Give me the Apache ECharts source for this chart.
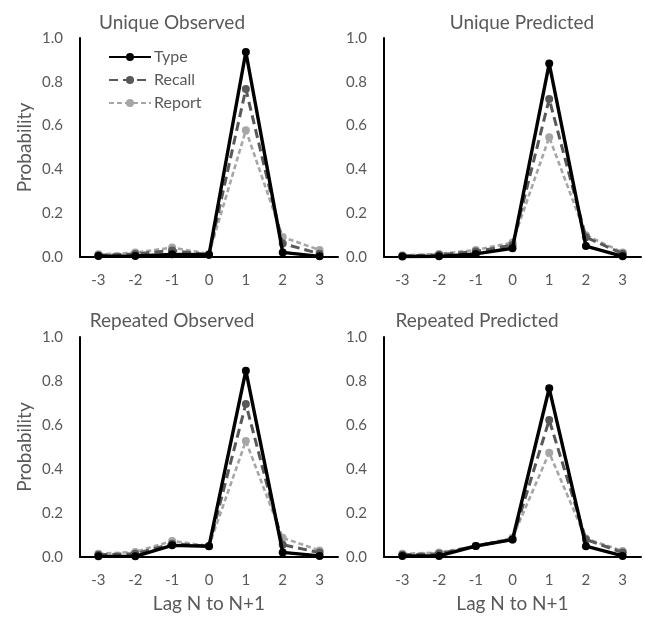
<!DOCTYPE html>
<html><head><meta charset="utf-8">
<script src="https://cdn.jsdelivr.net/npm/echarts@6/dist/echarts.min.js"></script>
<style>html,body{margin:0;padding:0;background:#fff}#c{width:645px;height:619px}</style>
</head><body><div id="c"></div>
<script>
const categories = ['-3','-2','-1','0','1','2','3'];
const panelTitles = ['Unique Observed','Unique Predicted','Repeated Observed','Repeated Predicted'];
const seriesNames = ['Type','Recall','Report'];

const uniqueObservedType   = [0.004, 0.005, 0.012, 0.010, 0.936, 0.021, 0.003];
const uniqueObservedRecall = [0.008, 0.014, 0.030, 0.010, 0.767, 0.062, 0.015];
const uniqueObservedReport = [0.012, 0.020, 0.043, 0.014, 0.579, 0.091, 0.032];

const uniquePredictedType   = [0.002, 0.003, 0.014, 0.040, 0.883, 0.050, 0.003];
const uniquePredictedRecall = [0.005, 0.010, 0.025, 0.055, 0.721, 0.090, 0.015];
const uniquePredictedReport = [0.008, 0.014, 0.032, 0.066, 0.547, 0.099, 0.021];

const repeatedObservedType   = [0.003, 0.003, 0.053, 0.049, 0.847, 0.021, 0.005];
const repeatedObservedRecall = [0.010, 0.015, 0.060, 0.050, 0.696, 0.056, 0.020];
const repeatedObservedReport = [0.015, 0.023, 0.073, 0.050, 0.527, 0.087, 0.030];

const repeatedPredictedType   = [0.005, 0.005, 0.050, 0.079, 0.767, 0.049, 0.005];
const repeatedPredictedRecall = [0.010, 0.015, 0.050, 0.080, 0.623, 0.080, 0.020];
const repeatedPredictedReport = [0.015, 0.020, 0.050, 0.087, 0.474, 0.084, 0.027];

const yTicks = [0, 0.2, 0.4, 0.6, 0.8, 1.0];

const panels = [
  [uniqueObservedType, uniqueObservedRecall, uniqueObservedReport],
  [uniquePredictedType, uniquePredictedRecall, uniquePredictedReport],
  [repeatedObservedType, repeatedObservedRecall, repeatedObservedReport],
  [repeatedPredictedType, repeatedPredictedRecall, repeatedPredictedReport]
];

const FONT = 'Lato';
const TXT = '#595959';
const grids = [
  {left: 80, top: 38, width: 258, height: 219},
  {left: 384, top: 38, width: 257, height: 219},
  {left: 80, top: 337, width: 258, height: 220},
  {left: 384, top: 337, width: 257, height: 220}
];
const titlePos = [[167, 8], [517, 8], [167, 306], [472, 306]];

const styles = [
  {color: '#000000', width: 3.4, type: 'solid', sym: 8},
  {color: '#595959', width: 3, type: [9, 5], sym: 8},
  {color: '#a6a6a6', width: 2.6, type: [5, 3], sym: 8}
];

const xAxes = grids.map((g, i) => ({
  type: 'category', gridIndex: i, data: categories, boundaryGap: true,
  axisLine: {lineStyle: {color: '#000', width: 2}},
  axisTick: {show: false},
  axisLabel: {color: TXT, fontSize: 15, fontFamily: FONT, margin: 16},
  name: i >= 2 ? 'Lag N to N+1' : '', nameLocation: 'middle', nameGap: 37,
  nameTextStyle: {color: TXT, fontSize: 19, fontFamily: FONT}
}));
const yAxes = grids.map((g, i) => ({
  type: 'value', gridIndex: i, min: 0, max: 1, interval: 0.2,
  axisLine: {show: true, lineStyle: {color: '#000', width: 2}},
  axisTick: {show: false},
  splitLine: {show: false},
  axisLabel: {color: TXT, fontSize: 15, fontFamily: FONT, margin: 17,
    formatter: v => yTicks.includes(Math.round(v * 10) / 10) ? v.toFixed(1) : ''},
  name: (i % 2 === 0) ? 'Probability' : '', nameLocation: 'middle', nameGap: 46,
  nameTextStyle: {color: TXT, fontSize: 19, fontFamily: FONT}
}));

const series = [];
panels.forEach((p, pi) => {
  p.forEach((vals, si) => {
    const s = styles[si];
    series.push({
      name: seriesNames[si], type: 'line', xAxisIndex: pi, yAxisIndex: pi,
      data: vals, symbol: 'circle', symbolSize: s.sym,
      itemStyle: {color: s.color},
      lineStyle: {color: s.color, width: s.width, type: s.type},
      z: 10 - si, animation: false
    });
  });
});

const chart = echarts.init(document.getElementById('c'));
chart.setOption({
  animation: false,
  title: panelTitles.map((t, i) => ({
    text: t, left: titlePos[i][0], top: titlePos[i][1], textAlign: 'center',
    textStyle: {color: TXT, fontSize: 19, fontWeight: 'normal', fontFamily: FONT}
  })),
  legend: {
    data: seriesNames, orient: 'vertical', left: 108, top: 49, itemGap: 7, padding: 0,
    itemWidth: 42, itemHeight: 10,
    textStyle: {color: TXT, fontSize: 16, fontFamily: FONT, padding: [0, 0, 0, -2]}
  },
  grid: grids,
  xAxis: xAxes,
  yAxis: yAxes,
  series: series
});
</script></body></html>
